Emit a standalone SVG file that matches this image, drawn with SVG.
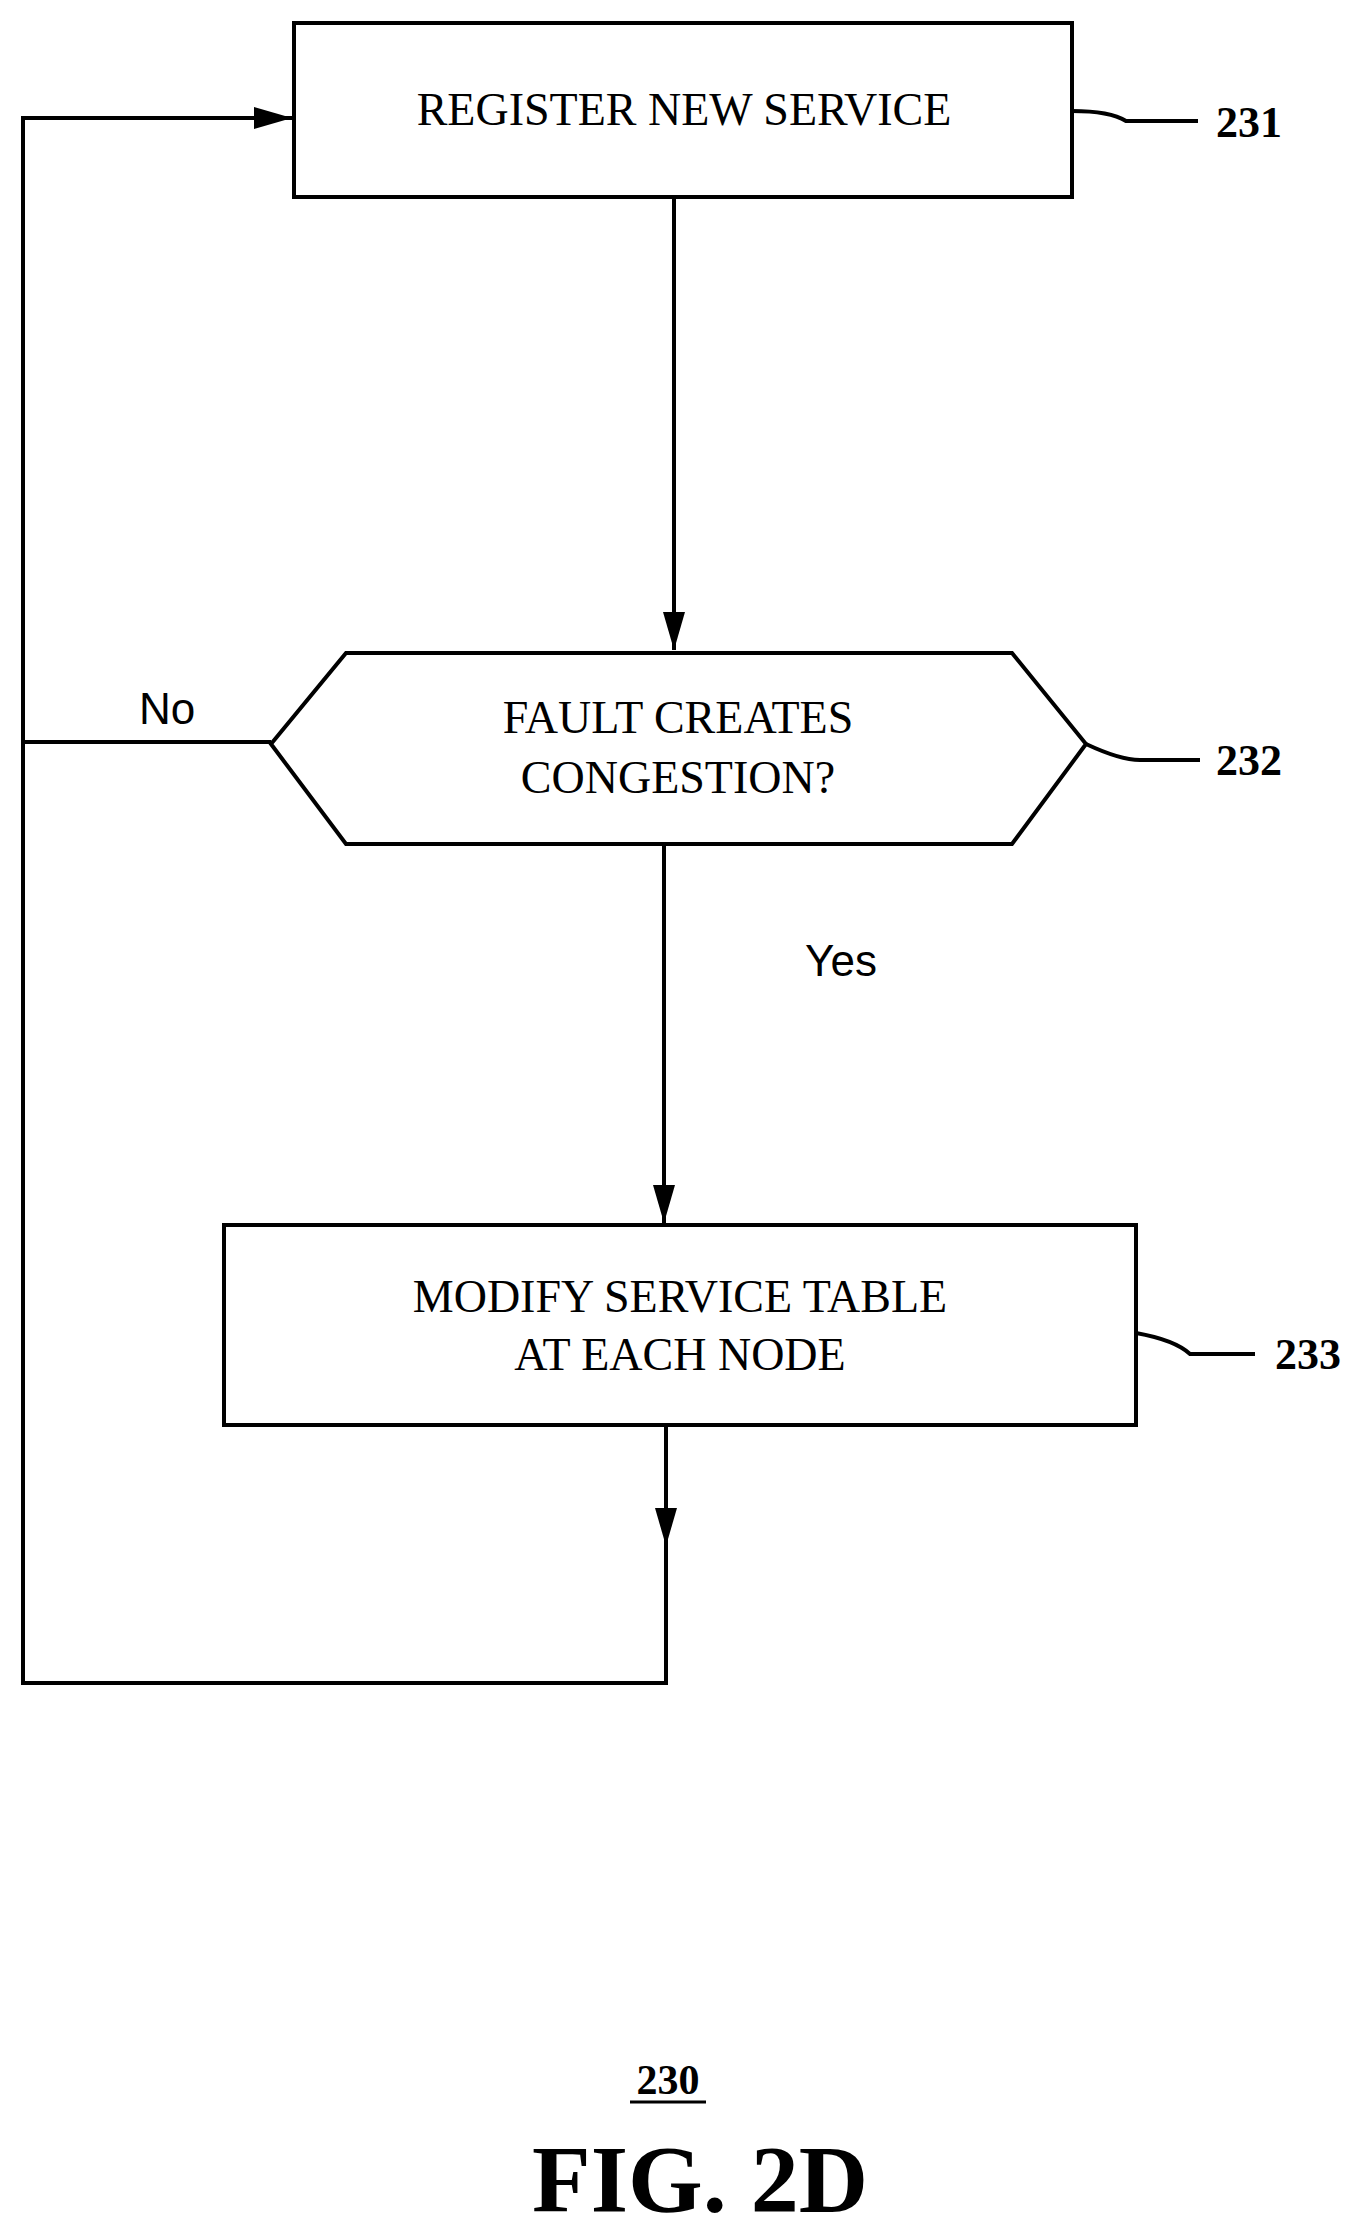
<svg xmlns="http://www.w3.org/2000/svg" width="1368" height="2234" viewBox="0 0 1368 2234">
<style>
.s{fill:none;stroke:#000;stroke-width:4}
.t{font-family:"Liberation Serif",serif;font-size:46px;text-anchor:middle}
.l{font-family:"Liberation Serif",serif;font-size:44px;font-weight:bold}
.a{font-family:"Liberation Sans",sans-serif;font-size:44px;text-anchor:middle}
</style>
<defs>
<marker id="ab" markerWidth="40" markerHeight="30" refX="38" refY="11" orient="auto" markerUnits="userSpaceOnUse"><path d="M0,0 L38,11 L0,22z" fill="#000"/></marker></defs>
<rect width="1368" height="2234" fill="#fff"/>
<g id="connectors">
<path class="s" d="M674,197 V650" marker-end="url(#ab)"/>
<path class="s" d="M664,844 V1223" marker-end="url(#ab)"/>
<path class="s" d="M666,1425 V1546" marker-end="url(#ab)"/>
<path class="s" d="M666,1530 V1683 H23 V118 H292" marker-end="url(#ab)"/>
<path class="s" d="M271,742 H23"/>
<text class="a" x="167" y="724">No</text>
<text class="a" x="841" y="976">Yes</text>
</g>
<g id="n231"><rect class="s" x="294" y="23" width="778" height="174"/>
<text class="t" x="684" y="125">REGISTER NEW SERVICE</text>
<path class="s" d="M1072,111 Q1110,111 1126,121 H1198"/><text class="l" x="1216" y="137">231</text></g>
<g id="n232"><polygon class="s" points="271,744 346,653 1012,653 1086,744 1012,844 346,844"/>
<text class="t" x="678" y="733">FAULT CREATES</text><text class="t" x="678" y="793">CONGESTION?</text>
<path class="s" d="M1086,744 Q1120,760 1140,760 H1200"/><text class="l" x="1216" y="775">232</text></g>
<g id="n233"><rect class="s" x="224" y="1225" width="912" height="200"/>
<text class="t" x="680" y="1312">MODIFY SERVICE TABLE</text><text class="t" x="680" y="1370">AT EACH NODE</text>
<path class="s" d="M1136,1333 Q1175,1340 1190,1354 H1255"/><text class="l" x="1275" y="1369">233</text></g>
<g id="caption"><text class="l" x="668" y="2094" style="text-anchor:middle;font-size:42px">230</text>
<path d="M630,2102 H706" stroke="#000" stroke-width="3"/>
<text class="l" x="700" y="2212" style="text-anchor:middle;font-size:96px">FIG. 2D</text></g>
</svg>
